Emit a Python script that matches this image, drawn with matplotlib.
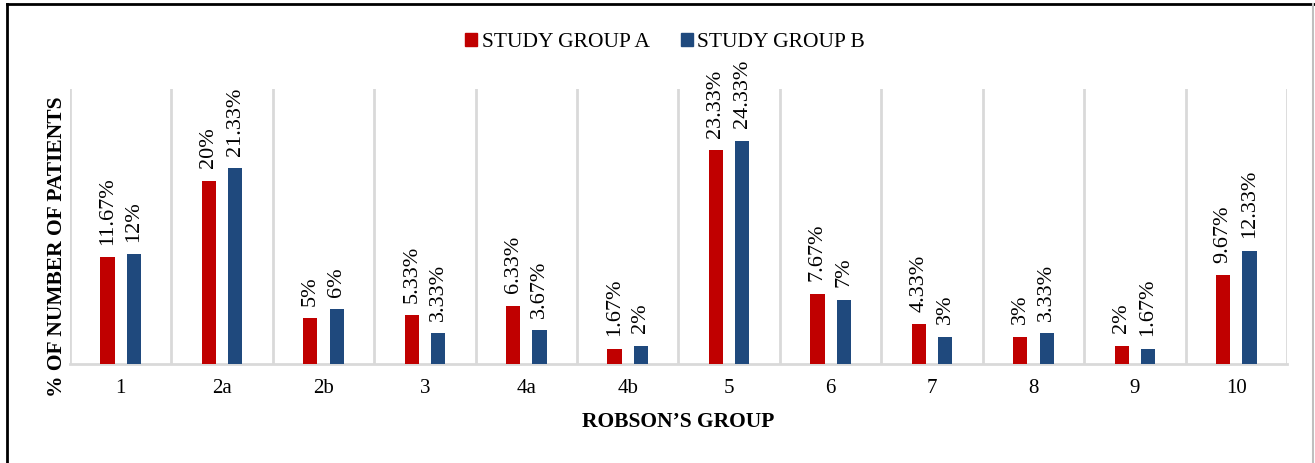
import numpy as np
import matplotlib
matplotlib.use("Agg")
import matplotlib.pyplot as plt
from matplotlib.lines import Line2D
from matplotlib.patches import Patch

plt.rcParams['font.family'] = ['Liberation Serif', 'DejaVu Serif']

groups  = ['1', '2a', '2b', '3', '4a', '4b', '5', '6', '7', '8', '9', '10']
group_a = [11.67, 20, 5, 5.33, 6.33, 1.67, 23.33, 7.67, 4.33, 3, 2, 9.67]
group_b = [12, 21.33, 6, 3.33, 3.67, 2, 24.33, 7, 3, 3.33, 1.67, 12.33]

RED   = '#C00000'
BLUE  = '#1F497D'
GRID  = '#D9D9D9'
WIDTH = 0.14
SHIFT = 0.13

fig = plt.figure(figsize=(13.15, 4.63), dpi=100)
ax  = fig.add_axes([0.0532, 0.2138, 0.9255, 0.594])

x = np.arange(len(groups))
bars_a = ax.bar(x - SHIFT, group_a, WIDTH, color=RED, zorder=3)
bars_b = ax.bar(x + SHIFT, group_b, WIDTH, color=BLUE, zorder=3)

for bars, vals in ((bars_a, group_a), (bars_b, group_b)):
    for b, v in zip(bars, vals):
        ax.annotate(f"{v:g}%", (b.get_x() + b.get_width() / 2, v),
                    xytext=(0, 9), textcoords='offset points',
                    rotation=90, ha='center', va='bottom',
                    fontsize=16, clip_on=False, annotation_clip=False)

ax.set_xlim(-0.5, len(groups) - 0.5)
ax.set_ylim(0, 30)
ax.set_xticks(x)
ax.set_xticklabels(groups, fontsize=15)
ax.set_xticks(np.arange(-0.5, len(groups)), minor=True)
ax.tick_params(axis='x', which='both', length=0, pad=11)
ax.set_yticks([])
ax.grid(axis='x', which='minor', color=GRID, linewidth=2, zorder=0)

for side in ('top', 'left', 'right'):
    ax.spines[side].set_visible(False)
ax.spines['bottom'].set_color(GRID)
ax.spines['bottom'].set_linewidth(2)

ax.set_xlabel("ROBSON\u2019S GROUP", fontsize=15.5, fontweight='bold', labelpad=10)
fig.text(0.0433, 0.468, "% OF NUMBER OF PATIENTS", rotation=90,
         ha='center', va='center', fontsize=15.5, fontweight='bold')

handles = [Patch(color=RED, label='STUDY GROUP A'),
           Patch(color=BLUE, label='STUDY GROUP B')]
fig.legend(handles=handles, loc='center', bbox_to_anchor=(0.5057, 0.908),
           ncol=2, frameon=False, fontsize=15.5, handlelength=0.55,
           handleheight=0.55, handletextpad=0.2, columnspacing=1.45)

# outer frame
fig.add_artist(Line2D([0.0053, 1.0], [0.991, 0.991], color='black', lw=2,
                      transform=fig.transFigure))
fig.add_artist(Line2D([0.0053, 0.0053], [0.0, 0.991], color='black', lw=2,
                      transform=fig.transFigure))
fig.add_artist(Line2D([0.9988, 0.9988], [0.0, 0.991], color='#BFBFBF', lw=1.5,
                      transform=fig.transFigure))

fig.savefig("out.png", dpi=100)
